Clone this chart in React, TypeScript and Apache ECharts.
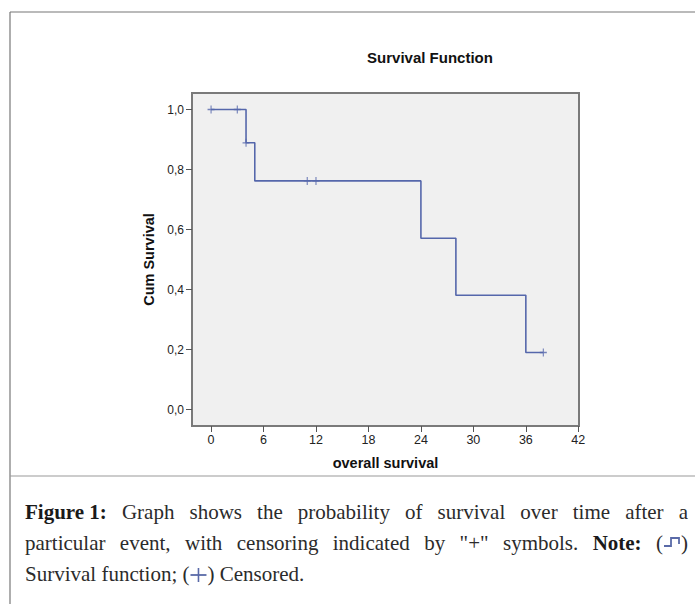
import React, { useEffect, useRef } from "react";
import * as echarts from "echarts";

const xTicks = [0, 6, 12, 18, 24, 30, 36, 42];
const yTicks = [0, 0.2, 0.4, 0.6, 0.8, 1.0];
const eventTimes = [0, 4, 5, 24, 28, 36, 38];
const survivalValues = [1.0, 0.889, 0.762, 0.571, 0.381, 0.19, 0.19];
const censorTimes = [0, 3, 4, 11, 12, 38];
const censorValues = [1.0, 1.0, 0.889, 0.762, 0.762, 0.19];

const chartTitle = "Survival Function";
const xName = "overall survival";
const yName = "Cum Survival";

type Part =
  | { kind: "text"; text: string; bold?: boolean }
  | { kind: "glyph"; type: "step" | "cens" };

const captionLine1: Part[][] = [
  [{ kind: "text", text: "Figure 1:", bold: true }],
  ...["Graph", "shows", "the", "probability", "of", "survival", "over", "time", "after", "a"].map(
    (w) => [{ kind: "text", text: w } as Part]
  ),
];
const captionLine2: Part[][] = [
  ...["particular", "event,", "with", "censoring", "indicated", "by", '"+"', "symbols."].map(
    (w) => [{ kind: "text", text: w } as Part]
  ),
  [{ kind: "text", text: "Note:", bold: true }],
  [
    { kind: "text", text: "(" },
    { kind: "glyph", type: "step" },
    { kind: "text", text: ")" },
  ],
];
const captionLine3: Part[][] = [
  [{ kind: "text", text: "Survival" }],
  [{ kind: "text", text: "function;" }],
  [
    { kind: "text", text: "(" },
    { kind: "glyph", type: "cens" },
    { kind: "text", text: ")" },
  ],
  [{ kind: "text", text: "Censored." }],
];

const CAP_FONT = '"Liberation Serif", "DejaVu Serif", serif';
const CAP_SIZE = 21;
const GLYPH_W = 18;

function buildCaption(): any[] {
  const canvas = document.createElement("canvas");
  const ctx = canvas.getContext("2d")!;
  const measure = (t: string, bold?: boolean) => {
    ctx.font = `${bold ? "bold " : ""}${CAP_SIZE}px ${CAP_FONT}`;
    return ctx.measureText(t).width;
  };
  const partW = (p: Part) => (p.kind === "text" ? measure(p.text, p.bold) : GLYPH_W);
  const tokW = (tok: Part[]) => tok.reduce((s, p) => s + partW(p), 0);

  const els: any[] = [];
  const left = 25;
  const right = 688;
  const glyphColor = "#5a6aa8";

  const layLine = (tokens: Part[][], cy: number, justify: boolean) => {
    const widths = tokens.map(tokW);
    const total = widths.reduce((a, b) => a + b, 0);
    const gap = justify ? (right - left - total) / (tokens.length - 1) : measure(" ");
    let x = left;
    tokens.forEach((tok, i) => {
      let px = x;
      tok.forEach((p) => {
        if (p.kind === "text") {
          els.push({
            type: "text",
            x: px,
            y: cy,
            style: {
              text: p.text,
              font: `${p.bold ? "bold " : ""}${CAP_SIZE}px ${CAP_FONT}`,
              fill: p.bold ? "#1a1a1a" : "#2b2b2b",
              textAlign: "left",
              textVerticalAlign: "middle",
            },
          });
        } else if (p.type === "step") {
          els.push({
            type: "polyline",
            shape: {
              points: [
                [px + 1, cy + 3],
                [px + 8, cy + 3],
                [px + 8, cy - 5],
                [px + 16, cy - 5],
                [px + 16, cy + 1],
              ],
            },
            style: { stroke: glyphColor, lineWidth: 1.8, fill: null },
          });
        } else {
          els.push({
            type: "line",
            shape: { x1: px + 1, y1: cy + 1, x2: px + 17, y2: cy + 1 },
            style: { stroke: glyphColor, lineWidth: 1.8 },
          });
          els.push({
            type: "line",
            shape: { x1: px + 9, y1: cy - 6, x2: px + 9, y2: cy + 8 },
            style: { stroke: glyphColor, lineWidth: 1.6 },
          });
        }
        px += partW(p);
      });
      x += widths[i] + gap;
    });
  };

  layLine(captionLine1, 512, true);
  layLine(captionLine2, 543, true);
  layLine(captionLine3, 574, false);
  return els;
}

export default function App() {
  const ref = useRef<HTMLDivElement>(null);

  useEffect(() => {
    if (!ref.current) return;
    const chart = echarts.init(ref.current, undefined, { renderer: "svg" });
    const lineColor = "#5567ab";
    const fmt = (v: number) => v.toFixed(1).replace(".", ",");

    const option: any = {
      animation: false,
      backgroundColor: "#ffffff",
      textStyle: { fontFamily: '"Liberation Sans", Arial, sans-serif' },
      grid: {
        left: 192,
        top: 93,
        width: 387,
        height: 333,
        show: true,
        backgroundColor: "#f0f0f0",
        borderColor: "#7a7a7a",
        borderWidth: 2,
      },
      xAxis: {
        type: "value",
        min: -2.18,
        max: 42.08,
        name: xName,
        nameLocation: "middle",
        nameGap: 29,
        nameTextStyle: { fontSize: 14.5, fontWeight: "bold", color: "#111" },
        axisLine: { show: true, onZero: false, lineStyle: { color: "#7a7a7a", width: 2 } },
        axisTick: { show: true, length: 6, customValues: xTicks, lineStyle: { color: "#555" } },
        axisLabel: { customValues: xTicks, fontSize: 12.5, color: "#222", margin: 7 },
        splitLine: { show: false },
      },
      yAxis: {
        type: "value",
        min: -0.055,
        max: 1.055,
        name: yName,
        nameLocation: "middle",
        nameGap: 32,
        nameRotate: 90,
        nameTextStyle: { fontSize: 14.5, fontWeight: "bold", color: "#111" },
        axisLine: { show: true, onZero: false, lineStyle: { color: "#7a7a7a", width: 2 } },
        axisTick: { show: true, length: 6, customValues: yTicks, lineStyle: { color: "#555" } },
        axisLabel: { customValues: yTicks, fontSize: 12, color: "#222", margin: 8, formatter: fmt },
        splitLine: { show: false },
      },
      series: [
        {
          type: "line",
          step: "end",
          data: eventTimes.map((t, i) => [t, survivalValues[i]]),
          showSymbol: false,
          lineStyle: { color: lineColor, width: 1.6 },
          silent: true,
        },
        {
          type: "scatter",
          data: censorTimes.map((t, i) => [t, censorValues[i]]),
          symbol: "path://M0,5L10,5M5,0L5,10",
          symbolSize: [7, 8],
          itemStyle: { color: "transparent", borderColor: lineColor, borderWidth: 1.2 },
          silent: true,
        },
      ],
      graphic: [
        {
          type: "line",
          shape: { x1: 10, y1: 12, x2: 695, y2: 12 },
          style: { stroke: "#777", lineWidth: 1.2 },
        },
        {
          type: "line",
          shape: { x1: 10, y1: 12, x2: 10, y2: 604 },
          style: { stroke: "#777", lineWidth: 1.2 },
        },
        {
          type: "line",
          shape: { x1: 10, y1: 476, x2: 695, y2: 476 },
          style: { stroke: "#999", lineWidth: 1 },
        },
        {
          type: "text",
          x: 430,
          y: 57,
          style: {
            text: chartTitle,
            font: 'bold 15px "Liberation Sans", Arial, sans-serif',
            fill: "#111",
            textAlign: "center",
            textVerticalAlign: "middle",
          },
        },
        ...buildCaption(),
      ],
    };
    chart.setOption(option);
    return () => chart.dispose();
  }, []);

  return (
    <div
      ref={ref}
      style={{ position: "absolute", left: 0, top: 0, width: 695, height: 604 }}
    />
  );
}
